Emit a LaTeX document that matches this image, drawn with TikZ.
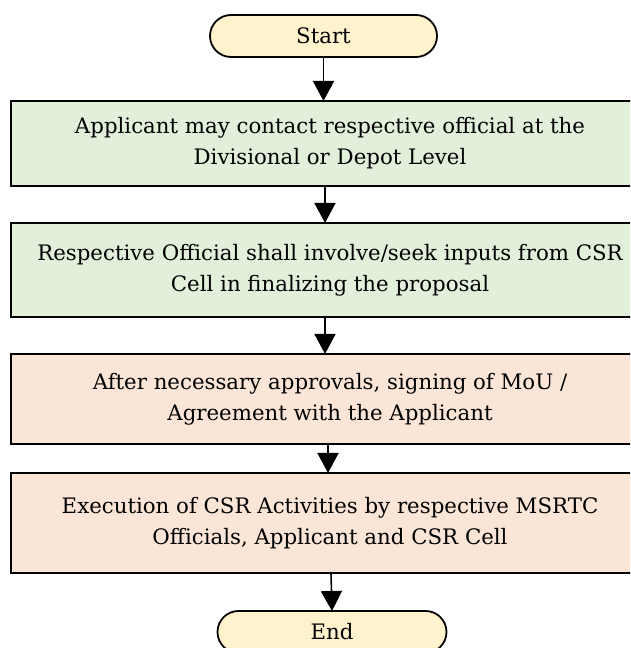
\documentclass[tikz,border=0pt]{standalone}
\usepackage{fontspec}
\setmainfont{DejaVu Serif}
\usetikzlibrary{arrows.meta,positioning,shapes.misc}
\definecolor{termfill}{HTML}{FFF2CC}
\definecolor{greenfill}{HTML}{E2EFDA}
\definecolor{peachfill}{HTML}{FBE5D6}
\tikzset{
  >={Triangle[length=20pt, width=21pt]},
  every node/.style={font=\fontsize{21.3}{31}\selectfont, outer sep=0pt},
  term/.style ={rounded rectangle, draw, line width=1.8pt, fill=termfill, minimum width=227pt, minimum height=42pt, inner sep=0pt},
  act/.style  ={draw, line width=1.8pt, minimum width=638pt, inner sep=0pt, align=center},
  greenact/.style={act, fill=greenfill},
  peachact/.style={act, fill=peachfill},
  flow/.style ={->, line width=1.6pt}
}
\begin{document}
\begin{tikzpicture}[x=1pt, y=1pt]
\useasboundingbox (0,0) rectangle (630,648);
\clip (0,0) rectangle (630,648);
\node[term] (start) at (323.5,612) {Start};
\node[greenact, minimum height=85pt] (b1) at (330,504.5)
  {Applicant may contact respective official at the\\ Divisional or Depot Level};
\node[greenact, minimum height=94pt, below=37pt of b1] (b2)
  {Respective Official shall involve/seek inputs from CSR\\ Cell in finalizing the proposal};
\node[peachact, minimum height=90pt, below=37pt of b2] (b3)
  {After necessary approvals, signing of MoU /\\ Agreement with the Applicant};
\node[peachact, minimum height=100pt, below=29pt of b3] (b4)
  {Execution of CSR Activities by respective MSRTC\\ Officials, Applicant and CSR Cell};
\node[term, minimum width=229pt, below=38pt of b4, xshift=2pt] (end) {End};

\draw[flow] (start.south) -- (start.south |- b1.north);
\draw[flow] ([xshift=-5pt]b1.south) -- ([xshift=-5pt]b2.north);
\draw[flow] ([xshift=-5pt]b2.south) -- ([xshift=-5pt]b3.north);
\draw[flow] ([xshift=-2pt]b3.south) -- ([xshift=-2pt]b4.north);
\draw[flow] ([xshift=1pt]b4.south) -- (end.north);
\end{tikzpicture}
\end{document}
